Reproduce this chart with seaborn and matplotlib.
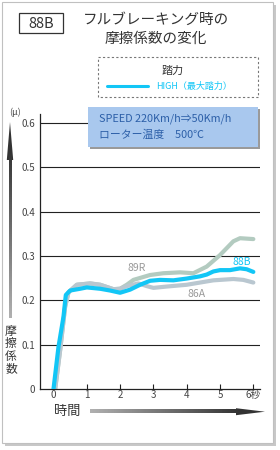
import matplotlib
matplotlib.use('Agg')
from matplotlib import pyplot as plt
from matplotlib.patches import Rectangle, Polygon
from matplotlib.colors import LinearSegmentedColormap
import seaborn as sns
import pandas as pd
import numpy as np

# datos
time_89r = [0.05, 0.2, 0.35, 0.45, 0.7, 1.1, 1.4, 1.8, 2.0, 2.2, 2.4, 2.9, 3.3, 3.8, 4.2, 4.6, 5.0, 5.4, 5.6, 6.0]
mu_89r = [0, 0.088, 0.186, 0.218, 0.235, 0.238, 0.235, 0.225, 0.226, 0.235, 0.246, 0.257, 0.261, 0.263, 0.261, 0.276, 0.302, 0.333, 0.340, 0.338]

time_86a = [0.05, 0.2, 0.35, 0.45, 0.7, 1.1, 1.4, 1.8, 2.0, 2.2, 2.55, 2.8, 3.0, 3.4, 4.0, 4.4, 4.8, 5.4, 5.7, 6.0]
mu_86a = [0, 0.088, 0.186, 0.218, 0.235, 0.238, 0.235, 0.225, 0.226, 0.232, 0.238, 0.232, 0.228, 0.231, 0.235, 0.240, 0.245, 0.248, 0.246, 0.240]

time_88b = [0, 0.15, 0.3, 0.37, 0.5, 0.8, 1.0, 1.4, 1.7, 2.0, 2.3, 2.6, 2.9, 3.2, 3.6, 4.0, 4.4, 4.6, 4.8, 5.0, 5.3, 5.6, 5.8, 6.0]
mu_88b = [0, 0.095, 0.163, 0.212, 0.222, 0.226, 0.229, 0.226, 0.222, 0.217, 0.224, 0.235, 0.244, 0.246, 0.245, 0.249, 0.254, 0.258, 0.265, 0.268, 0.268, 0.272, 0.270, 0.264]

series = ['89R', '86A', '88B']
y_ticks = [0, 0.1, 0.2, 0.3, 0.4, 0.5, 0.6]
y_labels = ['0', '0.1', '0.2', '0.3', '0.4', '0.5', '0.6']
x_ticks = [0, 1, 2, 3, 4, 5, 6]
x_labels = ['0', '1', '2', '3', '4', '5', '6秒']

df = pd.concat([
    pd.DataFrame({'time': time_89r, 'mu': mu_89r, 'pad': '89R'}),
    pd.DataFrame({'time': time_86a, 'mu': mu_86a, 'pad': '86A'}),
    pd.DataFrame({'time': time_88b, 'mu': mu_88b, 'pad': '88B'}),
])

palette = {'89R': '#b3cbc0', '86A': '#b9c7d0', '88B': '#12c6f6'}

sns.set_style('white')
plt.rcParams['font.family'] = ['Noto Sans CJK JP', 'DejaVu Sans']

fig = plt.figure(figsize=(2.8, 4.5), dpi=100)
fig.patch.set_facecolor('white')

# fondo (coordenadas en pixeles)
bg = fig.add_axes([0, 0, 1, 1], zorder=0)
bg.set_xlim(0, 280)
bg.set_ylim(450, 0)
bg.axis('off')
bg.add_patch(Rectangle((5, 5), 271, 441, facecolor='#c8c8c8', edgecolor='none'))
bg.add_patch(Rectangle((2, 2), 271, 441, facecolor='white', edgecolor='#c0c0c0', lw=0.8))

# grafico principal
ax = fig.add_axes([39.5 / 280, 1 - 389 / 450, 220.5 / 280, 275 / 450], zorder=1)
ax.patch.set_alpha(0)
for yv in y_ticks[1:]:
    ax.axhline(yv, color='#222222', lw=0.8, zorder=1)
for s in series:
    sub = df[df['pad'] == s]
    sns.lineplot(data=sub, x='time', y='mu', color=palette[s], lw=3, ax=ax,
                 legend=False, zorder=3 if s == '88B' else 2, estimator=None, sort=False)
ax.set_xlim(-0.42, 6.2)
ax.set_ylim(0, 0.62)
ax.set_yticks(y_ticks, y_labels)
ax.set_xticks(x_ticks, x_labels)
ax.tick_params(axis='y', length=0, labelsize=7, labelcolor='#444444', pad=3)
ax.tick_params(axis='x', length=3.5, width=0.8, direction='in', color='#222222',
               labelsize=7, labelcolor='#444444', pad=1, bottom=True)
ax.set_xlabel('')
ax.set_ylabel('')
for side in ['top', 'right']:
    ax.spines[side].set_visible(False)
for side in ['left', 'bottom']:
    ax.spines[side].set_color('#222222')
    ax.spines[side].set_linewidth(0.9)

ax.text(2.5, 0.272, '89R', color='#9a9a9a', fontsize=7.5, ha='center', va='center')
ax.text(4.3, 0.214, '86A', color='#9a9a9a', fontsize=7.5, ha='center', va='center')
ax.text(5.65, 0.287, '88B', color='#12c6f6', fontsize=7.5, ha='center', va='center')

# capa superior para textos y cajas
top = fig.add_axes([0, 0, 1, 1], zorder=3)
top.axis('off')

top.add_patch(Rectangle((19, 13), 44, 20, facecolor='white', edgecolor='#333333', lw=0.9))
top.text(41, 23.5, '88B', fontsize=10.5, ha='center', va='center', color='#333333')
top.text(156, 20, 'フルブレーキング時の', fontsize=10.5, ha='center', va='center', color='#333333')
top.text(156, 38.5, '摩擦係数の変化', fontsize=10.5, ha='center', va='center', color='#333333')

top.add_patch(Rectangle((98, 57), 160, 40, facecolor='white', edgecolor='#777777', lw=0.8, ls=(0, (2, 2))))
top.text(173, 71, '踏力', fontsize=8, ha='center', va='center', color='#333333')
top.plot([107, 148], [86, 86], color='#12c6f6', lw=2.2)
top.text(156, 86, 'HIGH（最大踏力）', fontsize=6.5, ha='left', va='center', color='#12c6f6')

top.add_patch(Rectangle((90, 109), 170, 40, facecolor='#9a9a9a', edgecolor='none'))
top.add_patch(Rectangle((88, 107), 170, 40, facecolor='#a9c8ee', edgecolor='none'))
top.text(99, 119, 'SPEED 220Km/h⇒50Km/h', fontsize=7.8, ha='left', va='center', color='#2c5fa8')
top.text(99, 134.5, 'ローター温度　500℃', fontsize=7.8, ha='left', va='center', color='#2c5fa8')

top.text(15, 112, '(μ)', fontsize=6.5, ha='center', va='center', color='#444444')
top.text(11, 350, '摩\n擦\n係\n数', fontsize=8.5, ha='center', va='center', color='#333333', linespacing=0.95)
top.text(67, 412, '時間', fontsize=9.5, ha='center', va='center', color='#333333')

# flechas con degradado
grad_v = np.linspace(0, 1, 100).reshape(-1, 1)
top.imshow(grad_v, cmap=LinearSegmentedColormap.from_list('g', ['#333333', '#b0b0b0']),
           extent=(8.6, 11.4, 318, 150), aspect='auto', zorder=2)
top.add_patch(Polygon([(10, 122), (6.8, 160), (13.2, 160)], closed=True, facecolor='#333333', edgecolor='none'))

grad_h = np.linspace(0, 1, 100).reshape(1, -1)
top.imshow(grad_h, cmap=LinearSegmentedColormap.from_list('h', ['#b0b0b0', '#333333']),
           extent=(90, 240, 413.3, 410.2), aspect='auto', zorder=2)
top.add_patch(Polygon([(265, 411.7), (236, 408.2), (236, 415.2)], closed=True, facecolor='#333333', edgecolor='none'))
top.set_xlim(0, 280)
top.set_ylim(450, 0)

fig.savefig('out.png', dpi=100)
